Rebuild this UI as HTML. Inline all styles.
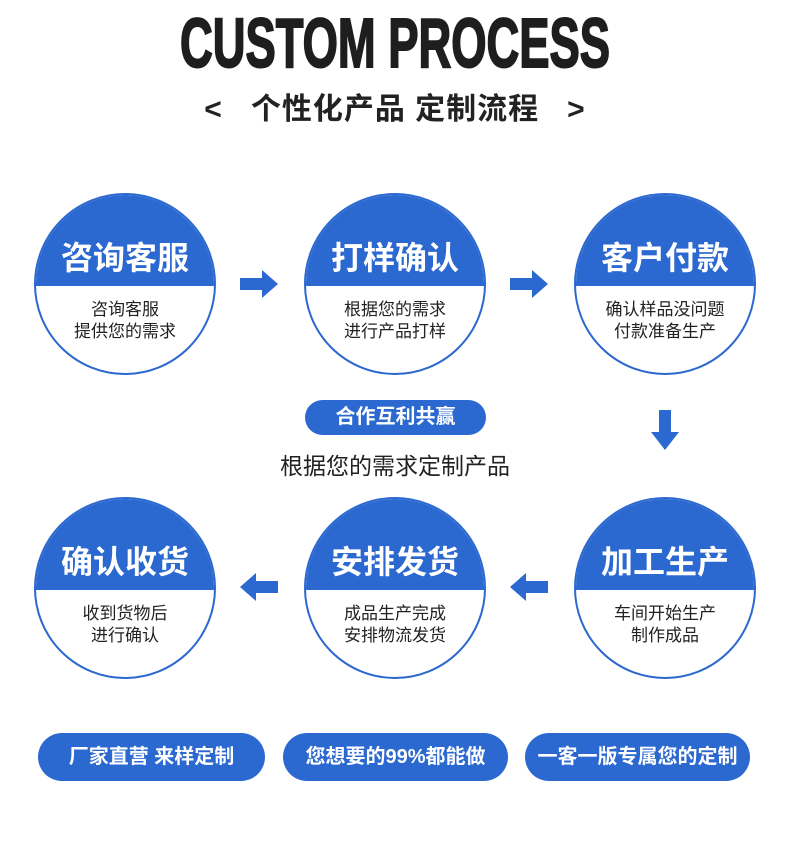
<!DOCTYPE html>
<html><head><meta charset="utf-8"><style>
body{margin:0;width:790px;height:859px;background:#fff;position:relative;overflow:hidden;font-family:"Liberation Sans","Noto Sans CJK SC",sans-serif}
.c{position:absolute;width:178px;height:178px;border:2px solid #2b68d0;border-radius:50%;overflow:hidden;background:#fff}
.c .t{position:absolute;left:0;top:0;width:100%;height:91px;background:#2b68d0;color:#fff;font-weight:bold;font-size:32px;text-align:center;line-height:30px}
.c .t span{position:absolute;left:0;right:0;top:48px}
.c .b{position:absolute;top:104px;width:100%;text-align:center;font-size:17px;line-height:22px;color:#222}
.p{position:absolute;background:#2b68d0;color:#fff;font-weight:bold;border-radius:24px;text-align:center}
.a{position:absolute}
</style></head><body>
<svg style="position:absolute;left:0;top:0" width="790" height="140">
<text x="395" y="67" text-anchor="middle" font-family="Liberation Sans" font-weight="bold" font-size="70" textLength="430" lengthAdjust="spacingAndGlyphs" fill="#1e1e1e" stroke="#1e1e1e" stroke-width="2">CUSTOM PROCESS</text>
</svg>
<div style="position:absolute;left:0;width:790px;top:91px;text-align:center;font-size:30px;font-weight:bold;color:#222;line-height:38px;letter-spacing:1px">&lt;&nbsp;&nbsp; 个性化产品 定制流程 &nbsp;&nbsp;&gt;</div>

<div class="c" style="left:34px;top:193px"><div class="t"><span>咨询客服</span></div><div class="b">咨询客服<br>提供您的需求</div></div>
<div class="c" style="left:304px;top:193px"><div class="t"><span>打样确认</span></div><div class="b">根据您的需求<br>进行产品打样</div></div>
<div class="c" style="left:574px;top:193px"><div class="t"><span>客户付款</span></div><div class="b">确认样品没问题<br>付款准备生产</div></div>
<div class="c" style="left:34px;top:497px"><div class="t"><span>确认收货</span></div><div class="b">收到货物后<br>进行确认</div></div>
<div class="c" style="left:304px;top:497px"><div class="t"><span>安排发货</span></div><div class="b">成品生产完成<br>安排物流发货</div></div>
<div class="c" style="left:574px;top:497px"><div class="t"><span>加工生产</span></div><div class="b">车间开始生产<br>制作成品</div></div>

<svg class="a" style="left:240px;top:270px" width="40" height="28"><polygon points="0,8 22,8 22,0 38,14 22,28 22,20 0,20" fill="#2b68d0"/></svg>
<svg class="a" style="left:510px;top:270px" width="40" height="28"><polygon points="0,8 22,8 22,0 38,14 22,28 22,20 0,20" fill="#2b68d0"/></svg>
<svg class="a" style="left:240px;top:573px" width="40" height="28"><polygon points="38,8 16,8 16,0 0,14 16,28 16,20 38,20" fill="#2b68d0"/></svg>
<svg class="a" style="left:510px;top:573px" width="40" height="28"><polygon points="38,8 16,8 16,0 0,14 16,28 16,20 38,20" fill="#2b68d0"/></svg>
<svg class="a" style="left:651px;top:410px" width="28" height="40"><polygon points="8,0 20,0 20,22 28,22 14,40 0,22 8,22" fill="#2b68d0"/></svg>

<div class="p" style="left:305px;top:400px;width:181px;height:35px;line-height:35px;font-size:20px;border-radius:18px">合作互利共赢</div>
<div style="position:absolute;left:0;width:790px;top:451px;text-align:center;font-size:23px;color:#222;line-height:30px">根据您的需求定制产品</div>

<div class="p" style="left:38px;top:733px;width:227px;height:48px;line-height:48px;font-size:20px">厂家直营 来样定制</div>
<div class="p" style="left:283px;top:733px;width:225px;height:48px;line-height:48px;font-size:20px">您想要的99%都能做</div>
<div class="p" style="left:525px;top:733px;width:225px;height:48px;line-height:48px;font-size:20px">一客一版专属您的定制</div>
</body></html>
